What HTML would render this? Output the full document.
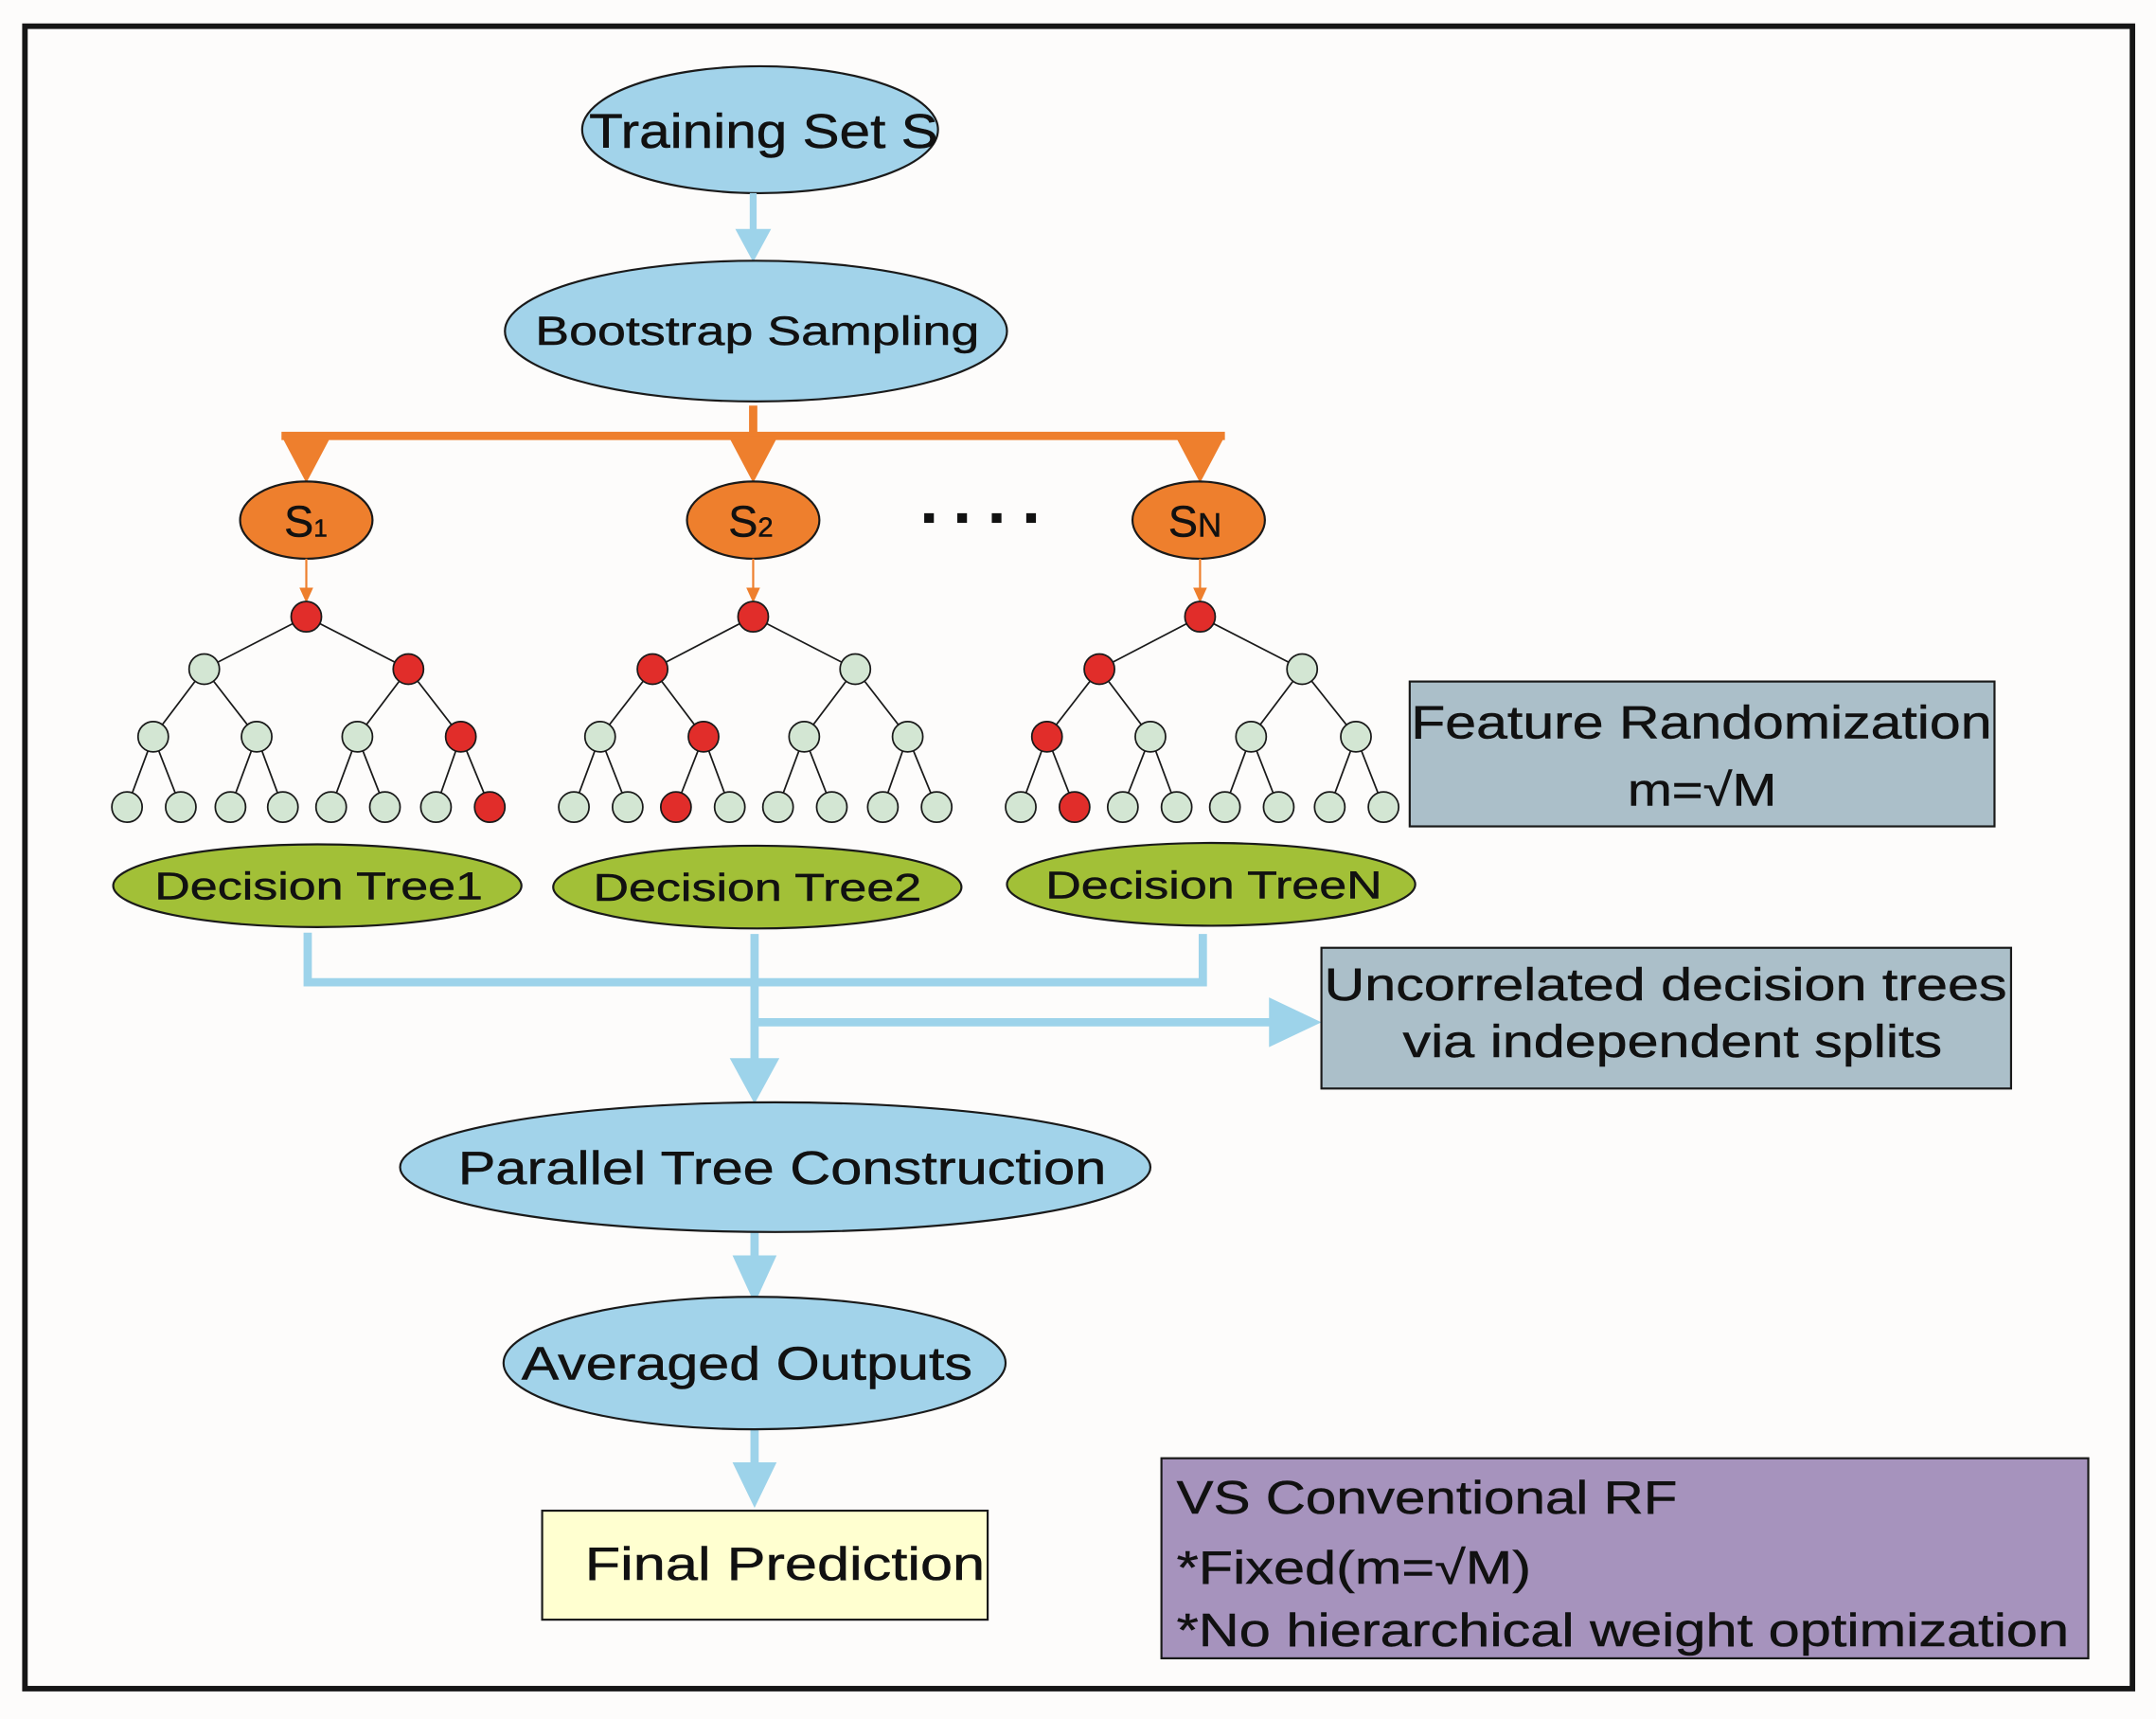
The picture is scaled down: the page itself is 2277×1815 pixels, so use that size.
<!DOCTYPE html>
<html><head><meta charset="utf-8"><style>
html,body{margin:0;padding:0;background:#fdfcfb;}
svg{display:block;}
text{font-family:"Liberation Sans",Arial,sans-serif;fill:#111;stroke:#111;stroke-width:0.35;}
</style></head><body>
<svg width="2277" height="1815" viewBox="0 0 1563 1246" xmlns="http://www.w3.org/2000/svg">
<rect x="0" y="0" width="1563" height="1246" fill="#fdfcfb"/>
<rect x="18" y="19" width="1528" height="1205" fill="none" stroke="#161616" stroke-width="4"/>

<ellipse cx="551" cy="94" rx="129" ry="46" fill="#a2d3ea" stroke="#1a1a1a" stroke-width="1.5"/>
<text x="427" y="107" font-size="35" textLength="253" lengthAdjust="spacingAndGlyphs">Training Set S</text>
<line x1="546" y1="140" x2="546" y2="168" stroke="#9dd3ea" stroke-width="5"/>
<polygon points="533,166 559,166 546,190" fill="#9dd3ea"/>

<ellipse cx="548" cy="240" rx="182" ry="51" fill="#a2d3ea" stroke="#1a1a1a" stroke-width="1.5"/>
<text x="388" y="250" font-size="29" textLength="322" lengthAdjust="spacingAndGlyphs">Bootstrap  Sampling</text>

<line x1="546" y1="294" x2="546" y2="316" stroke="#ee7f2d" stroke-width="6"/>
<line x1="204" y1="316" x2="888" y2="316" stroke="#ee7f2d" stroke-width="6"/>
<polygon points="204,316 240,316 222,350" fill="#ee7f2d"/>
<polygon points="528,316 564,316 546,350" fill="#ee7f2d"/>
<polygon points="852,316 888,316 870,350" fill="#ee7f2d"/>

<ellipse cx="222" cy="377" rx="48" ry="28" fill="#ee7f2d" stroke="#1a1a1a" stroke-width="1.5"/>
<text x="206" y="389" font-size="32">S<tspan font-size="18">1</tspan></text>
<ellipse cx="546" cy="377" rx="48" ry="28" fill="#ee7f2d" stroke="#1a1a1a" stroke-width="1.5"/>
<text x="528" y="389" font-size="32">S<tspan font-size="20">2</tspan></text>
<ellipse cx="869" cy="377" rx="48" ry="28" fill="#ee7f2d" stroke="#1a1a1a" stroke-width="1.5"/>
<text x="847" y="389" font-size="32">S<tspan font-size="24">N</tspan></text>
<g fill="#111"><rect x="670" y="372" width="7" height="7"/><rect x="694" y="372" width="7" height="7"/><rect x="719" y="372" width="7" height="7"/><rect x="744" y="372" width="7" height="7"/></g>

<g stroke="#ee7f2d" stroke-width="1.5">
<line x1="222" y1="405" x2="222" y2="428"/><line x1="546" y1="405" x2="546" y2="428"/><line x1="870" y1="405" x2="870" y2="428"/>
</g>
<g fill="#ee7f2d">
<polygon points="217,426 227,426 222,437"/><polygon points="541,426 551,426 546,437"/><polygon points="865,426 875,426 870,437"/>
</g>

<g stroke="#1a1a1a" stroke-width="1.2">
<path d="M222,447 L148,485 M222,447 L296,485 M148,485 L111,534 M148,485 L186,534 M296,485 L259,534 M296,485 L334,534 M111,534 L92,585 M111,534 L131,585 M186,534 L167,585 M186,534 L205,585 M259,534 L240,585 M259,534 L279,585 M334,534 L316,585 M334,534 L355,585"/>
<path d="M546,447 L473,485 M546,447 L620,485 M473,485 L435,534 M473,485 L510,534 M620,485 L583,534 M620,485 L658,534 M435,534 L416,585 M435,534 L455,585 M510,534 L490,585 M510,534 L529,585 M583,534 L564,585 M583,534 L603,585 M658,534 L640,585 M658,534 L679,585"/>
<path d="M870,447 L797,485 M870,447 L944,485 M797,485 L759,534 M797,485 L834,534 M944,485 L907,534 M944,485 L983,534 M759,534 L740,585 M759,534 L779,585 M834,534 L814,585 M834,534 L853,585 M907,534 L888,585 M907,534 L927,585 M983,534 L964,585 M983,534 L1003,585"/>
</g>
<g stroke="#1a1a1a" stroke-width="1.2" fill="#d3e6d3">
<ellipse cx="148" cy="485" rx="11" ry="11"/>
<ellipse cx="111" cy="534" rx="11" ry="11"/><ellipse cx="186" cy="534" rx="11" ry="11"/><ellipse cx="259" cy="534" rx="11" ry="11"/>
<ellipse cx="92" cy="585" rx="11" ry="11"/><ellipse cx="131" cy="585" rx="11" ry="11"/><ellipse cx="167" cy="585" rx="11" ry="11"/><ellipse cx="205" cy="585" rx="11" ry="11"/><ellipse cx="240" cy="585" rx="11" ry="11"/><ellipse cx="279" cy="585" rx="11" ry="11"/><ellipse cx="316" cy="585" rx="11" ry="11"/>
<ellipse cx="620" cy="485" rx="11" ry="11"/>
<ellipse cx="435" cy="534" rx="11" ry="11"/><ellipse cx="583" cy="534" rx="11" ry="11"/><ellipse cx="658" cy="534" rx="11" ry="11"/>
<ellipse cx="416" cy="585" rx="11" ry="11"/><ellipse cx="455" cy="585" rx="11" ry="11"/><ellipse cx="529" cy="585" rx="11" ry="11"/><ellipse cx="564" cy="585" rx="11" ry="11"/><ellipse cx="603" cy="585" rx="11" ry="11"/><ellipse cx="640" cy="585" rx="11" ry="11"/><ellipse cx="679" cy="585" rx="11" ry="11"/>
<ellipse cx="944" cy="485" rx="11" ry="11"/>
<ellipse cx="834" cy="534" rx="11" ry="11"/><ellipse cx="907" cy="534" rx="11" ry="11"/><ellipse cx="983" cy="534" rx="11" ry="11"/>
<ellipse cx="740" cy="585" rx="11" ry="11"/><ellipse cx="814" cy="585" rx="11" ry="11"/><ellipse cx="853" cy="585" rx="11" ry="11"/><ellipse cx="888" cy="585" rx="11" ry="11"/><ellipse cx="927" cy="585" rx="11" ry="11"/><ellipse cx="964" cy="585" rx="11" ry="11"/><ellipse cx="1003" cy="585" rx="11" ry="11"/>
</g>
<g stroke="#1a1a1a" stroke-width="1.2" fill="#e12d2a">
<ellipse cx="222" cy="447" rx="11" ry="11"/><ellipse cx="296" cy="485" rx="11" ry="11"/><ellipse cx="334" cy="534" rx="11" ry="11"/><ellipse cx="355" cy="585" rx="11" ry="11"/>
<ellipse cx="546" cy="447" rx="11" ry="11"/><ellipse cx="473" cy="485" rx="11" ry="11"/><ellipse cx="510" cy="534" rx="11" ry="11"/><ellipse cx="490" cy="585" rx="11" ry="11"/>
<ellipse cx="870" cy="447" rx="11" ry="11"/><ellipse cx="797" cy="485" rx="11" ry="11"/><ellipse cx="759" cy="534" rx="11" ry="11"/><ellipse cx="779" cy="585" rx="11" ry="11"/>
</g>

<g fill="#a2c037" stroke="#1a1a1a" stroke-width="1.5">
<ellipse cx="230" cy="642" rx="148" ry="30"/>
<ellipse cx="549" cy="643" rx="148" ry="30"/>
<ellipse cx="878" cy="641" rx="148" ry="30"/>
</g>
<text x="112" y="652" font-size="28" textLength="238" lengthAdjust="spacingAndGlyphs">Decision Tree1</text>
<text x="430" y="653" font-size="28" textLength="238" lengthAdjust="spacingAndGlyphs">Decision Tree2</text>
<text x="758" y="651" font-size="28" textLength="244" lengthAdjust="spacingAndGlyphs">Decision TreeN</text>

<rect x="1022" y="494" width="424" height="105" fill="#abbfc9" stroke="#1a1a1a" stroke-width="1.5"/>
<text x="1023" y="535" font-size="34" textLength="421" lengthAdjust="spacingAndGlyphs">Feature Randomization</text>
<text x="1180" y="584" font-size="33" textLength="108" lengthAdjust="spacingAndGlyphs">m=√M</text>

<g stroke="#9dd3ea" stroke-width="6" fill="none">
<polyline points="223,676 223,712 872,712 872,677"/>
<line x1="547" y1="677" x2="547" y2="772"/>
<line x1="547" y1="741" x2="924" y2="741"/>
<line x1="547" y1="893" x2="547" y2="912"/>
<line x1="547" y1="1036" x2="547" y2="1062"/>
</g>
<g fill="#9dd3ea">
<polygon points="529,767 565,767 547,800"/>
<polygon points="920,723 920,759 958,741"/>
<polygon points="531,910 563,910 547,945"/>
<polygon points="531,1060 563,1060 547,1093"/>
</g>

<rect x="958" y="687" width="500" height="102" fill="#abbfc9" stroke="#1a1a1a" stroke-width="1.5"/>
<text x="960" y="725" font-size="33" textLength="495" lengthAdjust="spacingAndGlyphs">Uncorrelated decision trees</text>
<text x="1017" y="766" font-size="33" textLength="391" lengthAdjust="spacingAndGlyphs">via independent splits</text>

<ellipse cx="562" cy="846" rx="272" ry="47" fill="#a2d3ea" stroke="#1a1a1a" stroke-width="1.5"/>
<text x="332" y="858" font-size="34" textLength="470" lengthAdjust="spacingAndGlyphs">Parallel Tree Construction</text>

<ellipse cx="547" cy="988" rx="182" ry="48" fill="#a2d3ea" stroke="#1a1a1a" stroke-width="1.5"/>
<text x="378" y="1000" font-size="34" textLength="327" lengthAdjust="spacingAndGlyphs">Averaged Outputs</text>

<rect x="393" y="1095" width="323" height="79" fill="#ffffd0" stroke="#1a1a1a" stroke-width="1.5"/>
<text x="424" y="1145" font-size="34" textLength="290" lengthAdjust="spacingAndGlyphs">Final  Prediction</text>

<rect x="842" y="1057" width="672" height="145" fill="#a693bd" stroke="#1a1a1a" stroke-width="1.5"/>
<text x="853" y="1097" font-size="34" textLength="363" lengthAdjust="spacingAndGlyphs">VS Conventional RF</text>
<text x="853" y="1148" font-size="34" textLength="257" lengthAdjust="spacingAndGlyphs">*Fixed(m=√M)</text>
<text x="853" y="1193" font-size="34" textLength="647" lengthAdjust="spacingAndGlyphs">*No hierarchical weight optimization</text>
</svg>
</body></html>
